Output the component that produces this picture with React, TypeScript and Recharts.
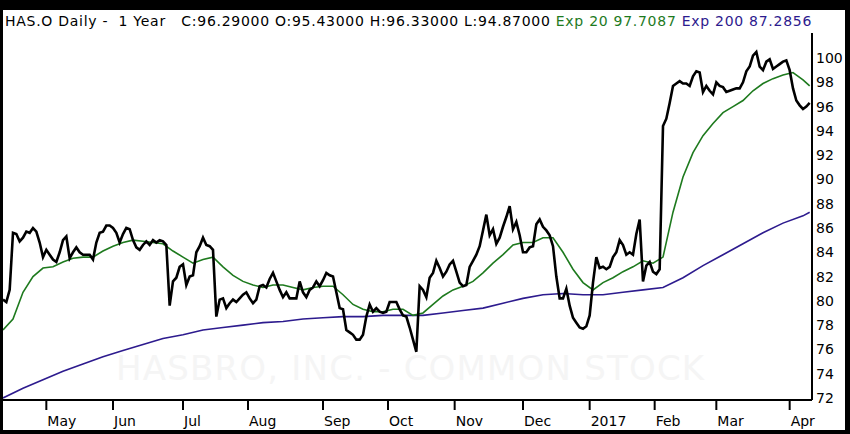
import { LineChart, Line, XAxis, YAxis } from 'recharts';

// daily closes left to right (one per session)
const close = [
  80.1, 79.9, 80.9, 85.6, 85.5, 84.9, 85.2, 85.7, 85.6, 86.0, 85.7, 84.8,
  83.6, 84.2, 83.8, 83.4, 83.2, 84.0, 85.0, 85.3, 83.5, 84.0, 84.4, 84.0,
  83.8, 83.8, 83.8, 83.4, 84.8, 85.6, 85.7, 86.2, 86.2, 86.0, 85.6, 84.8,
  85.5, 86.0, 85.9, 85.0, 84.4, 84.2, 84.6, 84.9, 84.6, 85.0, 84.8, 85.0,
  84.9, 84.6, 79.6, 81.6, 81.9, 82.8, 83.0, 81.3, 82.0, 82.1, 84.0, 84.5,
  85.2, 84.6, 84.5, 84.2, 78.7, 80.1, 80.2, 79.4, 79.8, 80.1, 79.9, 80.2,
  80.5, 80.7, 80.2, 79.8, 80.1, 81.2, 81.3, 81.1, 81.8, 82.3, 81.6, 80.9,
  80.3, 80.7, 80.2, 80.2, 80.2, 81.6, 80.7, 80.3, 80.9, 81.1, 81.6, 81.2,
  81.7, 82.3, 82.1, 82.0, 80.7, 79.4, 79.3, 77.6, 77.4, 77.2, 76.8, 76.8,
  77.2, 78.7, 79.7, 79.1, 79.4, 79.1, 79.0, 79.1, 79.9, 79.9, 79.9, 79.3,
  78.8, 78.7, 77.8, 76.8, 75.8, 81.2, 80.9, 80.3, 81.9, 82.3, 83.3, 82.7,
  82.0, 82.4, 83.0, 83.3, 82.4, 81.5, 81.2, 81.3, 82.8, 83.3, 83.8, 84.5,
  85.8, 87.1, 85.4, 85.9, 84.7, 85.2, 86.1, 86.9, 87.8, 85.9, 86.5, 85.4,
  84.0, 84.0, 84.4, 84.5, 86.3, 86.7, 86.1, 85.8, 85.4, 84.5, 82.0, 80.2,
  80.2, 81.0, 79.6, 78.6, 78.2, 77.8, 77.7, 77.9, 78.8, 81.5, 83.6, 82.7,
  82.8, 82.6, 82.8, 83.6, 84.0, 85.0, 84.6, 83.8, 84.0, 83.8, 85.5, 86.7,
  81.6, 82.9, 83.2, 82.4, 82.2, 82.6, 94.4, 95.0, 96.3, 97.7, 97.9, 98.1,
  97.9, 97.9, 97.7, 98.5, 98.9, 98.8, 97.2, 97.7, 97.3, 97.0, 98.0, 97.7,
  97.6, 97.2, 97.3, 97.4, 97.5, 97.5, 98.0, 98.9, 99.3, 100.2, 100.5, 99.3,
  99.0, 99.7, 99.9, 99.1, 99.3, 99.5, 99.7, 99.8, 99.0, 97.5, 96.5, 96.1,
  95.8, 96.0, 96.3,
];

// Exp 20, read every 3 sessions (last value = final session)
const ema20 = [
  77.6, 78.5, 80.7, 82.0, 82.7, 82.8, 83.2, 83.5, 83.6, 83.6, 84.1, 84.5,
  84.8, 85.0, 84.9, 84.8, 84.7, 84.1, 83.6, 83.1, 83.4, 83.6, 82.8, 82.1,
  81.6, 81.3, 81.1, 81.3, 81.3, 81.1, 80.9, 81.1, 81.2, 81.2, 80.5, 79.7,
  79.3, 79.1, 79.1, 79.3, 79.3, 78.8, 79.0, 79.7, 80.4, 80.9, 81.2, 81.6,
  82.3, 83.1, 83.8, 84.6, 84.8, 84.8, 85.2, 85.2, 84.0, 82.6, 81.5, 80.9,
  81.5, 81.9, 82.4, 82.8, 83.3, 83.1, 83.6, 87.3, 90.2, 92.2, 93.6, 94.6,
  95.5, 96.0, 96.5, 97.3, 97.9, 98.3, 98.6, 98.8, 98.2, 97.7,
];

// Exp 200, read every 6 sessions (last value = final session)
const ema200 = [
  72.0, 72.8, 73.5, 74.2, 74.8, 75.4, 75.9, 76.4, 76.9, 77.2, 77.6, 77.8,
  78.0, 78.2, 78.3, 78.5, 78.6, 78.7, 78.7, 78.8, 78.8, 78.8, 79.0, 79.2,
  79.4, 79.8, 80.2, 80.5, 80.6, 80.5, 80.5, 80.7, 80.9, 81.1, 81.9, 82.9,
  83.8, 84.7, 85.6, 86.4, 87.0, 87.3,
];

const monthTicks = [13, 33, 54, 73.5, 96, 115.5, 135.5, 156, 176, 195.5, 214, 236];
const monthLabels = ['May', 'Jun', 'Jul', 'Aug', 'Sep', 'Oct', 'Nov', 'Dec', '2017', 'Feb', 'Mar', 'Apr'];
const priceTicks = [72, 74, 76, 78, 80, 82, 84, 86, 88, 90, 92, 94, 96, 98, 100];

const lastDay = close.length - 1;
const closeData = close.map((v, i) => ({ day: i, v }));
const ema20Data = ema20.map((v, i) => ({ day: Math.min(i * 3, lastDay), v }));
const ema200Data = ema200.map((v, i) => ({ day: Math.min(i * 6, lastDay), v }));

const FONT = '"DejaVu Sans", Verdana, sans-serif';

const MonthTick = ({ x, y, payload }: any) => {
  const idx = monthTicks.indexOf(payload.value);
  return (
    <text x={x + 1} y={y} dy={14} fontSize={14} fontFamily={FONT} fill="#000">
      {monthLabels[idx]}
    </text>
  );
};

export default function App() {
  return (
    <div style={{ position: 'absolute', left: 0, top: 0, width: 850, height: 434, background: '#000', overflow: 'hidden' }}>
      <div style={{ position: 'absolute', left: 3, top: 10, width: 842, height: 420, background: '#fff' }} />
      <div
        style={{
          position: 'absolute', left: 116, top: 348, fontFamily: FONT, fontSize: 34,
          color: '#f5f5f5', whiteSpace: 'pre', letterSpacing: 1.2,
        }}
      >
        HASBRO, INC. - COMMON STOCK
      </div>
      <div
        style={{
          position: 'absolute', left: 5, top: 13, fontFamily: FONT, fontSize: 14,
          lineHeight: '17px', color: '#000', whiteSpace: 'pre', letterSpacing: 0.72,
        }}
      >
        {'HAS.O Daily -  1 Year   C:96.29000 O:95.43000 H:96.33000 L:94.87000 '}
        <span style={{ color: '#1e7a1e' }}>Exp 20 97.7087 </span>
        <span style={{ color: '#2d1b8e' }}>Exp 200 87.2856</span>
      </div>
      <div style={{ position: 'absolute', left: 0, top: 0 }}>
        <LineChart width={850} height={434} margin={{ top: 33, right: 0, bottom: 4, left: 3 }}>
          <XAxis
            type="number"
            dataKey="day"
            domain={[0, 242.7]}
            allowDataOverflow
            ticks={monthTicks}
            interval={0}
            height={30}
            tickSize={10}
            tickMargin={2}
            tick={<MonthTick />}
            tickLine={{ stroke: '#000', strokeWidth: 2 }}
            axisLine={{ stroke: '#000', strokeWidth: 2 }}
          />
          <YAxis
            orientation="right"
            width={38}
            domain={[71.83, 102.06]}
            allowDataOverflow
            ticks={priceTicks}
            interval={0}
            tickLine={false}
            tickSize={0}
            tickMargin={4}
            axisLine={{ stroke: '#000', strokeWidth: 2 }}
            tick={{ fill: '#000', fontSize: 14, fontFamily: FONT }}
          />
          <Line data={ema200Data} dataKey="v" type="linear" stroke="#2d1b8e" strokeWidth={1.6} dot={false} isAnimationActive={false} />
          <Line data={ema20Data} dataKey="v" type="linear" stroke="#1e7a1e" strokeWidth={1.6} dot={false} isAnimationActive={false} />
          <Line data={closeData} dataKey="v" type="linear" stroke="#000" strokeWidth={2.6} dot={false} isAnimationActive={false} />
        </LineChart>
      </div>
    </div>
  );
}
